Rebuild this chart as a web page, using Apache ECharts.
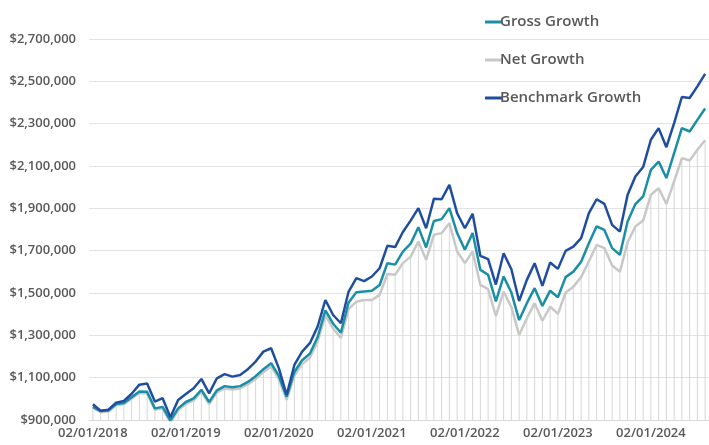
<!DOCTYPE html>
<html>
<head>
<meta charset="utf-8">
<script src="https://cdn.jsdelivr.net/npm/echarts@6/dist/echarts.min.js"></script>
<style>
  html, body { margin: 0; padding: 0; background: #fff; }
  #chart { width: 709px; height: 445px; }
</style>
</head>
<body>
<div id="chart"></div>
<script>
// monthly dates, first of month, starting 02/01/2018
const startYear = 2018
const startMonth = 2
const monthCount = 80

// values in thousands of dollars
const grossGrowth = [
  962, 942, 945, 975, 980, 1008, 1035, 1033, 955, 962,
  897, 955, 985, 1002, 1043, 985, 1040, 1060, 1055, 1060,
  1080, 1107, 1140, 1168, 1108, 1010, 1127, 1182, 1213, 1292,
  1418, 1355, 1312, 1455, 1503, 1507, 1511, 1538, 1641, 1634,
  1696, 1733, 1811, 1715, 1840, 1849, 1901, 1783, 1704, 1783,
  1609, 1586, 1460, 1578, 1502, 1372, 1452, 1523, 1439, 1511,
  1480, 1575, 1601, 1648, 1735, 1815, 1798, 1712, 1680, 1838,
  1920, 1956, 2082, 2121, 2043, 2161, 2279, 2263, 2318, 2372
]
const netGrowth = [
  958, 937, 940, 970, 975, 1002, 1028, 1026, 948, 955,
  888, 946, 976, 993, 1033, 975, 1030, 1049, 1044, 1049,
  1068, 1094, 1126, 1153, 1093, 995, 1110, 1164, 1194, 1270,
  1395, 1332, 1288, 1425, 1459, 1467, 1467, 1491, 1590, 1586,
  1641, 1672, 1743, 1657, 1775, 1783, 1830, 1696, 1641, 1696,
  1538, 1518, 1392, 1507, 1433, 1302, 1381, 1452, 1369, 1436,
  1401, 1502, 1530, 1575, 1650, 1727, 1712, 1630, 1600, 1740,
  1814, 1842, 1964, 1995, 1921, 2027, 2137, 2126, 2177, 2222
]
const benchmarkGrowth = [
  974, 944, 949, 982, 990, 1024, 1067, 1072, 987, 1003,
  913, 995, 1023, 1050, 1094, 1026, 1097, 1117, 1105, 1113,
  1140, 1176, 1223, 1239, 1144, 1018, 1160, 1223, 1263, 1341,
  1467, 1396, 1357, 1507, 1570, 1556, 1578, 1617, 1723, 1717,
  1788, 1842, 1901, 1806, 1945, 1943, 2011, 1877, 1806, 1874,
  1675, 1660, 1540, 1688, 1612, 1462, 1562, 1641, 1534, 1644,
  1614, 1699, 1719, 1759, 1877, 1943, 1921, 1822, 1790, 1964,
  2050, 2095, 2224, 2279, 2189, 2303, 2426, 2421, 2476, 2535
]

let dates = []
for (let i = 0; i < monthCount; i++) {
    let m = (startMonth - 1 + i) % 12 + 1
    let y = startYear + Math.floor((startMonth - 1 + i) / 12)
    dates.push((m < 10 ? '0' + m : '' + m) + '/01/' + y)
}
const toDollars = arr => arr.map(v => v * 1000)

const textGray = '#595959'
const font = "'Open Sans', 'Liberation Sans', sans-serif"

let chart = echarts.init(document.getElementById('chart'))
chart.setOption({
    animation: false,
    backgroundColor: '#fff',
    grid: {
        left: 89,
        right: -6,
        top: 39,
        bottom: 25,
    },
    legend: {
        orient: 'vertical',
        left: 480,
        top: 8,
        itemWidth: 17,
        itemHeight: 3,
        itemGap: 20,
        icon: 'rect',
        textStyle: {
            color: textGray,
            fontSize: 15,
            fontWeight: 600,
            fontFamily: font,
            lineHeight: 18,
            padding: [0, 0, 0, -7],
        },
        data: ['Gross Growth', 'Net Growth', 'Benchmark Growth'],
    },
    xAxis: {
        type: 'category',
        data: dates,
        boundaryGap: true,
        axisLine: { lineStyle: { color: '#d9d9d9', width: 1 } },
        axisTick: {
            interval: 11,
            length: 4,
            lineStyle: { color: '#d9d9d9' },
        },
        axisLabel: {
            interval: 11,
            color: textGray,
            fontSize: 13,
            fontWeight: 600,
            fontFamily: font,
            margin: 7,
        },
        splitLine: { show: false },
    },
    yAxis: {
        type: 'value',
        min: 900000,
        max: 2700000,
        interval: 200000,
        axisLine: { show: false },
        axisTick: { show: false },
        axisLabel: {
            color: textGray,
            fontSize: 13,
            fontWeight: 600,
            fontFamily: font,
            margin: 13,
            formatter: v => '$' + v.toLocaleString('en-US'),
        },
        splitLine: { lineStyle: { color: '#e3e3e3', width: 1 } },
    },
    series: [
        {
            // drop lines under the lowest series
            name: 'drop',
            type: 'bar',
            data: toDollars(netGrowth),
            barWidth: 1,
            itemStyle: { color: '#d6d6d6' },
            z: 1,
            silent: true,
        },
        {
            name: 'Gross Growth',
            type: 'line',
            data: toDollars(grossGrowth),
            showSymbol: false,
            lineStyle: { color: '#1a8ea5', width: 2.5 },
            itemStyle: { color: '#1a8ea5' },
            z: 3,
        },
        {
            name: 'Net Growth',
            type: 'line',
            data: toDollars(netGrowth),
            showSymbol: false,
            lineStyle: { color: '#c8c8c8', width: 2.5 },
            itemStyle: { color: '#c8c8c8' },
            z: 2,
        },
        {
            name: 'Benchmark Growth',
            type: 'line',
            data: toDollars(benchmarkGrowth),
            showSymbol: false,
            lineStyle: { color: '#1f4e9e', width: 2.5 },
            itemStyle: { color: '#1f4e9e' },
            z: 4,
        },
    ],
})
</script>
</body>
</html>
